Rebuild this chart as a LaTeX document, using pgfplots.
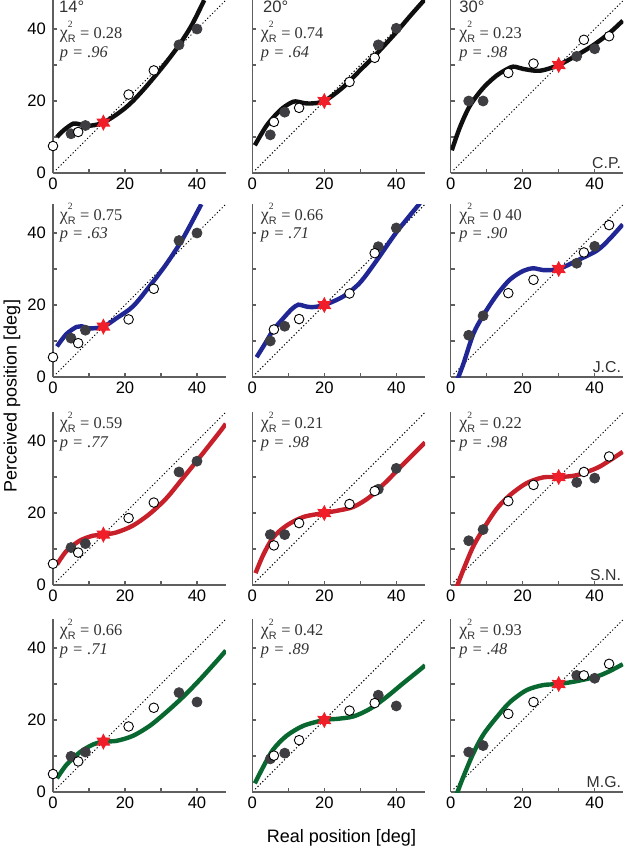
\documentclass[border=0pt]{standalone}
\usepackage{fontspec}
\setmainfont{Liberation Sans}
\newfontfamily\tms{Liberation Serif}
\usepackage{pgfplots}
\pgfplotsset{compat=1.18}
\definecolor{axgray}{RGB}{95,95,95}
\definecolor{fgray}{RGB}{62,62,66}
\definecolor{cblack}{RGB}{15,15,15}
\definecolor{cblue}{RGB}{32,38,148}
\definecolor{cred}{RGB}{200,32,42}
\definecolor{cgreen}{RGB}{8,104,48}
\definecolor{starred}{RGB}{240,30,40}
\definecolor{txt}{RGB}{50,50,50}
\pgfdeclareplotmark{hexstar}{%
  \pgfpathmoveto{\pgfpointpolar{90}{\pgfplotmarksize}}%
  \pgfpathlineto{\pgfpointpolar{120}{0.55\pgfplotmarksize}}%
  \pgfpathlineto{\pgfpointpolar{150}{\pgfplotmarksize}}%
  \pgfpathlineto{\pgfpointpolar{180}{0.55\pgfplotmarksize}}%
  \pgfpathlineto{\pgfpointpolar{210}{\pgfplotmarksize}}%
  \pgfpathlineto{\pgfpointpolar{240}{0.55\pgfplotmarksize}}%
  \pgfpathlineto{\pgfpointpolar{270}{\pgfplotmarksize}}%
  \pgfpathlineto{\pgfpointpolar{300}{0.55\pgfplotmarksize}}%
  \pgfpathlineto{\pgfpointpolar{330}{\pgfplotmarksize}}%
  \pgfpathlineto{\pgfpointpolar{0}{0.55\pgfplotmarksize}}%
  \pgfpathlineto{\pgfpointpolar{30}{\pgfplotmarksize}}%
  \pgfpathlineto{\pgfpointpolar{60}{0.55\pgfplotmarksize}}%
  \pgfpathclose\pgfusepathqfill}
\newcommand{\ticks}{\fontsize{8.3}{10}\selectfont}
\newcommand{\axlab}{\fontsize{9}{11}\selectfont}
\newcommand{\ann}{\fontsize{8.2}{9}\selectfont}
\newcommand{\subjf}{\fontsize{7.9}{9}\selectfont}
\newcommand{\chir}[1]{{\tms\fontsize{9}{9}\selectfont χ}\raisebox{-0.45ex}{\shortstack[l]{\fontsize{4.8}{5}\selectfont\tms 2\\[0.6pt]\fontsize{5.4}{5.6}\selectfont R}}\ {\tms = #1}}
\newcommand{\pval}[1]{{\tms\itshape p = #1}}
\tikzset{
  annc/.style={anchor=west, font=\ann, text=txt, inner sep=0pt},
  subj/.style={anchor=base east, font=\subjf, text=txt, inner sep=0pt},
}
\pgfplotsset{
  panel/.style={
    width=86.4pt, height=86.4pt, scale only axis,
    xmin=0, xmax=48, ymin=0, ymax=48,
    axis x line*=bottom, axis y line*=left,
    axis line style={-, draw=axgray, line width=0.7pt},
    xtick={0,10,20,30,40}, xticklabels={0,,20,,40},
    ytick={0,10,20,30,40},
    tick align=inside, major tick length=2pt,
    tick style={draw=axgray, line width=0.6pt},
    ticklabel style={font=\ticks},
    xticklabel style={yshift=1pt},
    anchor=south west,
    clip mode=individual,
  },
  lab/.style={yticklabels={0,,20,,40}},
  nolab/.style={yticklabels={}},
  dotline/.style={black, line width=0.5pt, dash pattern=on 0.6pt off 1.1pt},
  curve/.style={smooth, line width=2.2pt, no markers},
  filledpts/.style={only marks, mark=*, mark size=2.5pt, mark options={fill=fgray, draw=fgray}},
  openpts/.style={only marks, mark=*, mark size=2.4pt, mark options={fill=white, draw=black, line width=0.45pt}},
  starpt/.style={only marks, mark=hexstar, mark size=4.1pt, color=starred},
}
\begin{document}
\begin{tikzpicture}
\path[use as bounding box] (0,0) rectangle (312.5pt,-426.5pt);
% ---------------- row 1 (C.P.) ----------------
\begin{axis}[panel, lab, at={(26.5pt,-86.5pt)}]
\addplot[dotline] coordinates {(0.8,0.8)(48,48)};
\addplot[curve, cblack] coordinates {(1.1,10)(3,11.9)(5.6,13.7)(7.5,13.5)(9.5,13.1)(12,13.4)(14,14)(17,15.8)(20,18)(22.2,20)(25,23)(28,26.5)(31.5,30.8)(35,35.5)(38.5,41)(42,48)};
\addplot[filledpts] coordinates {(5,10.9)(9,13.2)(35,35.6)(40,40)};
\addplot[openpts] coordinates {(0,7.5)(7,11.4)(21,21.8)(28,28.5)};
\addplot[starpt] coordinates {(14,14)};
\node[annc, font=\ticks] at (axis cs:1.6,46.1) {14°};
\node[annc] at (axis cs:1.8,39.2) {\chir{0.28}};
\node[annc] at (axis cs:1.8,33.2) {\pval{.96}};
\end{axis}
\begin{axis}[panel, nolab, at={(126.15pt,-86.5pt)}]
\addplot[dotline] coordinates {(0.8,0.8)(48,48)};
\addplot[curve, cblack] coordinates {(0.7,7.7)(4,13.2)(7.7,17.4)(10.5,19.4)(12,19.9)(14,19.5)(16,19.3)(20,20)(25.3,23.9)(29.9,28.5)(34.5,33.1)(40,39.1)(44,43.8)(48,48.3)};
\addplot[filledpts] coordinates {(5,10.6)(9,16.9)(35,35.6)(40,40.2)};
\addplot[openpts] coordinates {(6,14.2)(13,18.1)(27,25.3)(34,32)};
\addplot[starpt] coordinates {(20,20)};
\node[annc, font=\ticks] at (axis cs:2.9,46.1) {20°};
\node[annc] at (axis cs:2.3,39.2) {\chir{0.74}};
\node[annc] at (axis cs:2.3,33.2) {\pval{.64}};
\end{axis}
\begin{axis}[panel, nolab, at={(225.35pt,-86.5pt)}]
\addplot[dotline] coordinates {(0.8,0.8)(48,48)};
\addplot[curve, cblack] coordinates {(0.3,6.3)(2.6,12.8)(5.4,18.8)(9.1,23.7)(12.8,27.1)(16.5,29.3)(18,29.5)(20.2,28.9)(24.8,28.4)(30,30)(35,32.7)(39.6,35.5)(44,38.8)(47.8,42.3)};
\addplot[filledpts] coordinates {(5,20)(9,20)(35,32.4)(40,34.5)};
\addplot[openpts] coordinates {(16,27.8)(23,30.4)(37,37)(44,38)};
\addplot[starpt] coordinates {(30,30)};
\node[annc, font=\ticks] at (axis cs:2.3,46.1) {30°};
\node[annc] at (axis cs:2.3,39.2) {\chir{0.23}};
\node[annc] at (axis cs:2.3,33.2) {\pval{.98}};
\node[subj] at (axis cs:47.4,1.3) {C.P.};
\end{axis}
% ---------------- row 2 (J.C.) ----------------
\begin{axis}[panel, lab, at={(26.5pt,-188.5pt)}]
\addplot[dotline] coordinates {(0.8,0.8)(48,48)};
\addplot[curve, cblue] coordinates {(1.1,8.5)(3.7,11.9)(6.5,13.9)(7.9,14.1)(10.2,13.5)(14,14)(17.6,16.3)(22.2,19.6)(26.9,25.3)(31.5,31.4)(36.1,38.5)(41.2,48)};
\addplot[filledpts] coordinates {(5,10.8)(9,13)(35,37.9)(40,40)};
\addplot[openpts] coordinates {(0,5.5)(7,9.4)(21,16)(28,24.5)};
\addplot[starpt] coordinates {(14,14)};
\node[annc] at (axis cs:1.8,45.4) {\chir{0.75}};
\node[annc] at (axis cs:1.8,39.4) {\pval{.63}};
\end{axis}
\begin{axis}[panel, nolab, at={(126.15pt,-188.5pt)}]
\addplot[dotline] coordinates {(0.8,0.8)(48,48)};
\addplot[curve, cblue] coordinates {(1.2,5.5)(3.5,9.2)(5.8,13)(8.6,16.3)(11,18.9)(12.8,20.1)(14.5,19.7)(16.5,19.4)(20,20)(25.3,22.4)(29.9,26.2)(34.5,32.3)(40.1,40.3)(46.6,48.3)};
\addplot[filledpts] coordinates {(5,10)(9,14.1)(35,36.2)(40,41.4)};
\addplot[openpts] coordinates {(6,13.2)(13,16.1)(27,23.2)(34,34.4)};
\addplot[starpt] coordinates {(20,20)};
\node[annc] at (axis cs:2.3,45.4) {\chir{0.66}};
\node[annc] at (axis cs:2.3,39.4) {\pval{.71}};
\end{axis}
\begin{axis}[panel, nolab, at={(225.35pt,-188.5pt)}]
\addplot[dotline] coordinates {(0.8,0.8)(48,48)};
\addplot[curve, cblue] coordinates {(1.7,-1.1)(3.5,3.6)(6.3,12)(9.1,17.2)(12.8,22.8)(16.5,27.1)(20.2,29.5)(23,30.2)(25.7,29.7)(30,30)(35,32.3)(40.6,35.1)(44,38.2)(47.8,42.4)};
\addplot[filledpts] coordinates {(5,11.6)(9,17)(35,31.6)(40,36.3)};
\addplot[openpts] coordinates {(16,23.3)(23,27)(37,34.6)(44,42.2)};
\addplot[starpt] coordinates {(30,30)};
\node[annc] at (axis cs:2.3,45.4) {\chir{0 40}};
\node[annc] at (axis cs:2.3,39.4) {\pval{.90}};
\node[subj] at (axis cs:47.4,1.3) {J.C.};
\end{axis}
% ---------------- row 3 (S.N.) ----------------
\begin{axis}[panel, lab, at={(26.5pt,-292.5pt)}]
\addplot[dotline] coordinates {(0.8,0.8)(48,48)};
\addplot[curve, cred] coordinates {(1.1,5.7)(3.7,9.4)(7.4,12.3)(11.1,13.7)(14,14)(17.6,14.6)(22.2,16.5)(26.9,19.8)(31.5,24.1)(36.1,29.7)(40.7,35.4)(46.3,42.5)(48,44.8)};
\addplot[filledpts] coordinates {(5,10.4)(9,11.5)(35,31.4)(40,34.4)};
\addplot[openpts] coordinates {(0,5.9)(7,9)(21,18.6)(28,22.9)};
\addplot[starpt] coordinates {(14,14)};
\node[annc] at (axis cs:1.8,45.2) {\chir{0.59}};
\node[annc] at (axis cs:1.8,39.3) {\pval{.77}};
\end{axis}
\begin{axis}[panel, nolab, at={(126.15pt,-292.5pt)}]
\addplot[dotline] coordinates {(0.8,0.8)(48,48)};
\addplot[curve, cred] coordinates {(0.9,3.3)(3.1,8.5)(5.8,13.2)(9.5,16.5)(14.2,18.9)(20,20)(23.4,20.6)(28.1,21.7)(32.7,24.5)(37.3,28.8)(41.9,33.5)(46.6,38.2)(48,39.6)};
\addplot[filledpts] coordinates {(5,14)(9,14)(35,26.6)(40,32.4)};
\addplot[openpts] coordinates {(6,11)(13,17.2)(27,22.5)(34,26.1)};
\addplot[starpt] coordinates {(20,20)};
\node[annc] at (axis cs:2.3,45.2) {\chir{0.21}};
\node[annc] at (axis cs:2.3,39.3) {\pval{.98}};
\end{axis}
\begin{axis}[panel, nolab, at={(225.35pt,-292.5pt)}]
\addplot[dotline] coordinates {(0.8,0.8)(48,48)};
\addplot[curve, cred] coordinates {(1.7,-0.5)(3.5,4.2)(6.3,10.8)(9.1,15.6)(12.8,21.2)(16.5,25)(21.1,28.3)(25.7,29.9)(30,30)(35,30.5)(40.6,32.5)(44,34.5)(47.8,37)};
\addplot[filledpts] coordinates {(5,12.3)(9,15.4)(35,28.5)(40,29.7)};
\addplot[openpts] coordinates {(16,23.3)(23,27.8)(37,31.4)(44,35.7)};
\addplot[starpt] coordinates {(30,30)};
\node[annc] at (axis cs:2.3,45.2) {\chir{0.22}};
\node[annc] at (axis cs:2.3,39.3) {\pval{.98}};
\node[subj] at (axis cs:47.4,1.3) {S.N.};
\end{axis}
% ---------------- row 4 (M.G.) ----------------
\begin{axis}[panel, lab, at={(26.5pt,-396pt)}]
\addplot[dotline] coordinates {(0.8,0.8)(48,48)};
\addplot[curve, cgreen] coordinates {(1.1,3.8)(3.7,7.5)(7.4,11)(11.1,13.2)(14,14)(17.6,14.2)(22.2,15.6)(26.9,18.4)(31.5,22.2)(36.1,26.4)(40.7,31.1)(46.3,37.3)(48,39.3)};
\addplot[filledpts] coordinates {(5,9.9)(9,11.1)(35,27.6)(40,25)};
\addplot[openpts] coordinates {(0,5)(7,8.5)(21,18.2)(28,23.4)};
\addplot[starpt] coordinates {(14,14)};
\node[annc] at (axis cs:1.8,45.2) {\chir{0.66}};
\node[annc] at (axis cs:1.8,39.3) {\pval{.71}};
\end{axis}
\begin{axis}[panel, nolab, at={(126.15pt,-396pt)}]
\addplot[dotline] coordinates {(0.8,0.8)(48,48)};
\addplot[curve, cgreen] coordinates {(0.7,2.4)(3.1,7.1)(5.8,11.8)(9.5,15.6)(14.2,18.4)(20,20)(23.4,20.3)(28.1,21)(32.7,23.1)(37.3,26.4)(41.9,30.2)(46.6,34)(48,35.2)};
\addplot[filledpts] coordinates {(5,9.2)(9,10.8)(35,26.9)(40,23.9)};
\addplot[openpts] coordinates {(6,10.1)(13,14.4)(27,22.6)(34,24.7)};
\addplot[starpt] coordinates {(20,20)};
\node[annc] at (axis cs:2.3,45.2) {\chir{0.42}};
\node[annc] at (axis cs:2.3,39.3) {\pval{.89}};
\end{axis}
\begin{axis}[panel, nolab, at={(225.35pt,-396pt)}]
\addplot[dotline] coordinates {(0.8,0.8)(48,48)};
\addplot[curve, cgreen] coordinates {(1.7,-0.5)(3.5,4.2)(6.3,10.8)(9.1,16)(12.8,20.8)(16.5,25)(21.1,28.3)(25.7,29.7)(30,30)(35,30.8)(40.6,32.1)(44,33.5)(47.8,35.5)};
\addplot[filledpts] coordinates {(5,11.1)(9,12.9)(35,32.4)(40,31.6)};
\addplot[openpts] coordinates {(16,21.7)(23,25)(37,32.4)(44,35.6)};
\addplot[starpt] coordinates {(30,30)};
\node[annc] at (axis cs:2.3,45.2) {\chir{0.93}};
\node[annc] at (axis cs:2.3,39.3) {\pval{.48}};
\node[subj] at (axis cs:47.4,1.3) {M.G.};
\end{axis}
% ---------------- axis labels ----------------
\node[rotate=90, font=\axlab] at (6pt,-198pt) {Perceived position [deg]};
\node[font=\axlab] at (170.75pt,-419pt) {Real position [deg]};
\end{tikzpicture}
\end{document}
